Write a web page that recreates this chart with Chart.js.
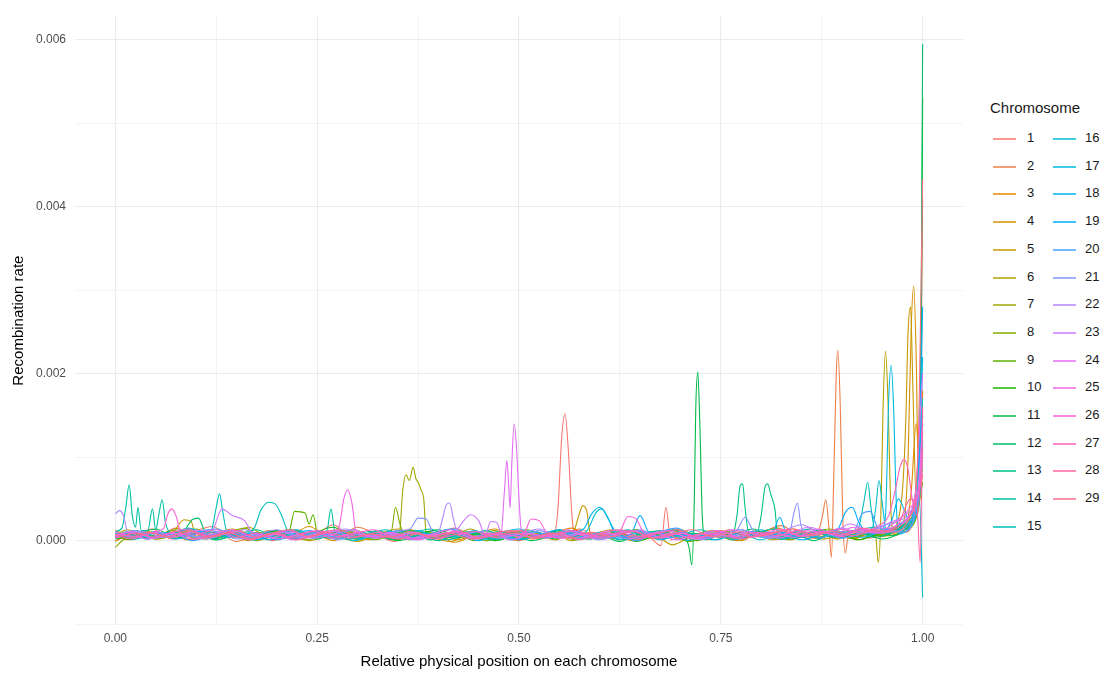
<!DOCTYPE html>
<html>
<head>
<meta charset="utf-8">
<script src="https://cdn.jsdelivr.net/npm/chart.js@4.4.0/dist/chart.umd.min.js"></script>
<style>
  body { margin: 0; background: #fff; font-family: "Liberation Sans", Arial, sans-serif; }
  #wrap { position: relative; width: 1105px; height: 673px; overflow: hidden; }
  #chart { position: absolute; left: 0; top: 0; }
  .legend-title { position: absolute; left: 990px; top: 99px; font-size: 15px; color: #1a1a1a; }
  .swatch { position: absolute; width: 23px; height: 2px; opacity: 0.75; }
  .lab { position: absolute; font-size: 13px; line-height: 16px; color: #1a1a1a; }
</style>
</head>
<body>
<div id="wrap">
  <canvas id="chart" width="975" height="673"></canvas>
  <div class="legend-title">Chromosome</div>
  <div id="legend"></div>
</div>
<script>
// tick positions
const xTicks = [0, 0.125, 0.25, 0.375, 0.5, 0.625, 0.75, 0.875, 1];
const yTicks = [-0.001, 0, 0.001, 0.002, 0.003, 0.004, 0.005, 0.006];

const chromosomes = ["1","2","3","4","5","6","7","8","9","10","11","12","13","14","15",
  "16","17","18","19","20","21","22","23","24","25","26","27","28","29"];

// [relative position, recombination rate]
const chr1 = [[0,1.2e-4],[.02,0.5e-4],[.045,1.4e-4],[.07,0.2e-4],[.095,1.0e-4],[.12,1.7e-4],[.145,0.4e-4],[.17,0.9e-4],[.195,0],[.22,1.3e-4],[.245,0.6e-4],[.27,1.9e-4],[.295,0.3e-4],[.32,0.8e-4],[.345,-0.1e-4],[.37,1.1e-4],[.395,0.5e-4],[.42,1.5e-4],[.445,0.2e-4],[.47,0.7e-4],[.495,0.4e-4],[.52,1.0e-4],[.542,0.5e-4],[.548,3.5e-4],[.553,12.5e-4],[.557,15.2e-4],[.561,11e-4],[.566,2.5e-4],[.572,0.2e-4],[.59,0.9e-4],[.615,0.3e-4],[.64,1.2e-4],[.662,0.4e-4],[.676,-0.6e-4],[.682,4e-4],[.688,0.1e-4],[.71,0.8e-4],[.735,0.2e-4],[.76,1.3e-4],[.785,0.5e-4],[.81,1.0e-4],[.835,0.1e-4],[.86,1.4e-4],[.885,0.6e-4],[.91,1.1e-4],[.935,0.3e-4],[.96,1.5e-4],[.98,1.0e-4],[.99,2.5e-4],[.996,8e-4],[1,41e-4]];
const chr2 = [[0,0],[.025,0.8e-4],[.05,0.3e-4],[.075,1.5e-4],[.1,0.5e-4],[.125,1.0e-4],[.15,-0.1e-4],[.175,0.7e-4],[.2,1.2e-4],[.225,0.2e-4],[.25,0.9e-4],[.275,0.4e-4],[.3,1.6e-4],[.325,0.7e-4],[.35,0.1e-4],[.375,1.0e-4],[.4,0.5e-4],[.425,1.3e-4],[.45,0.2e-4],[.475,0.6e-4],[.5,0],[.525,0.9e-4],[.55,0.4e-4],[.575,1.4e-4],[.6,0.2e-4],[.625,0.8e-4],[.65,0.5e-4],[.675,1.1e-4],[.7,0.1e-4],[.725,0.7e-4],[.75,1.2e-4],[.775,0.3e-4],[.8,0.9e-4],[.825,1.8e-4],[.85,0.4e-4],[.87,0.9e-4],[.876,3e-4],[.88,4.9e-4],[.884,1.5e-4],[.887,-2e-4],[.89,8e-4],[.893,20e-4],[.895,22.8e-4],[.898,16e-4],[.901,3e-4],[.904,-1.5e-4],[.908,0.6e-4],[.93,1.3e-4],[.955,0.7e-4],[.975,1.6e-4],[.99,2.5e-4],[.996,5e-4],[1,13e-4]];
const chr3 = [[0,0.6e-4],[.015,0.1e-4],[.04,1.1e-4],[.065,0.5e-4],[.09,1.4e-4],[.115,0.3e-4],[.14,0.8e-4],[.165,0],[.19,1.2e-4],[.215,0.6e-4],[.24,1.7e-4],[.265,0.4e-4],[.29,0.9e-4],[.315,0.1e-4],[.34,0.7e-4],[.365,1.3e-4],[.39,0.5e-4],[.415,-0.1e-4],[.44,0.8e-4],[.465,0.4e-4],[.49,1.1e-4],[.515,0.2e-4],[.54,0.7e-4],[.565,1.5e-4],[.59,0.3e-4],[.615,0.9e-4],[.64,0],[.665,0.6e-4],[.69,1.2e-4],[.715,0.4e-4],[.74,0.8e-4],[.765,0.1e-4],[.79,1.0e-4],[.815,0.5e-4],[.84,1.4e-4],[.865,0.3e-4],[.89,0.9e-4],[.915,0.2e-4],[.94,1.2e-4],[.965,0.8e-4],[.98,2e-4],[.986,6e-4],[.992,14e-4],[.997,9e-4],[1,18e-4]];
const chr4 = [[0,-0.1e-4],[.02,0.9e-4],[.045,0.4e-4],[.07,1.2e-4],[.095,0.1e-4],[.12,0.7e-4],[.145,1.4e-4],[.17,0.5e-4],[.195,1.0e-4],[.22,0.2e-4],[.245,0.8e-4],[.27,0],[.295,1.3e-4],[.32,0.6e-4],[.345,1.1e-4],[.37,0.3e-4],[.395,0.9e-4],[.42,-0.2e-4],[.445,0.7e-4],[.47,1.4e-4],[.495,0.4e-4],[.52,0.8e-4],[.545,0.1e-4],[.57,1.2e-4],[.595,0.5e-4],[.62,1.0e-4],[.645,0.2e-4],[.67,0.7e-4],[.695,1.3e-4],[.72,0.3e-4],[.745,0.9e-4],[.77,0],[.795,0.8e-4],[.82,1.5e-4],[.845,0.4e-4],[.87,1.0e-4],[.895,0.2e-4],[.92,0.9e-4],[.945,0.6e-4],[.965,1.4e-4],[.977,2.5e-4],[.982,10e-4],[.986,26e-4],[.989,30.5e-4],[.992,22e-4],[.995,6e-4],[1,9e-4]];
const chr5 = [[0,0.5e-4],[.025,1.2e-4],[.05,0.2e-4],[.07,0.8e-4],[.085,2.5e-4],[.094,2.3e-4],[.1,0.3e-4],[.125,0.6e-4],[.15,1.3e-4],[.175,0.4e-4],[.2,0.9e-4],[.225,0.1e-4],[.25,1.1e-4],[.275,0.5e-4],[.3,-0.1e-4],[.325,0.8e-4],[.35,1.4e-4],[.375,0.3e-4],[.4,0.7e-4],[.425,0.1e-4],[.45,1.0e-4],[.475,0.5e-4],[.5,1.2e-4],[.525,0.2e-4],[.55,0.6e-4],[.568,1.2e-4],[.574,3e-4],[.579,4.2e-4],[.584,3.5e-4],[.588,1.0e-4],[.6,0.3e-4],[.625,0.9e-4],[.65,0.1e-4],[.675,0.7e-4],[.7,1.3e-4],[.725,0.4e-4],[.75,0.8e-4],[.775,0],[.8,1.1e-4],[.825,0.5e-4],[.85,0.9e-4],[.875,0.2e-4],[.9,0.7e-4],[.925,1.3e-4],[.95,0.5e-4],[.968,2e-4],[.975,6e-4],[.979,14e-4],[.982,25e-4],[.985,28e-4],[.988,18e-4],[.992,5e-4],[1,12e-4]];
const chr6 = [[0,0.7e-4],[.015,1.3e-4],[.04,0.3e-4],[.065,0.9e-4],[.09,0.1e-4],[.115,1.1e-4],[.14,0.5e-4],[.165,1.6e-4],[.19,0.4e-4],[.215,0.8e-4],[.24,0],[.265,0.7e-4],[.29,1.2e-4],[.315,0.3e-4],[.34,0.9e-4],[.365,0.1e-4],[.39,1.0e-4],[.415,0.5e-4],[.44,1.4e-4],[.465,0.2e-4],[.49,0.8e-4],[.515,0.4e-4],[.54,1.1e-4],[.565,0],[.59,0.7e-4],[.615,1.3e-4],[.64,0.3e-4],[.665,0.9e-4],[.69,-0.5e-4],[.715,0.6e-4],[.74,1.2e-4],[.765,0.4e-4],[.79,0.8e-4],[.815,0.1e-4],[.84,1.0e-4],[.865,0.5e-4],[.89,1.3e-4],[.915,0.3e-4],[.935,0.8e-4],[.942,0.3e-4],[.945,-2.6e-4],[.948,2e-4],[.951,16e-4],[.954,22.7e-4],[.957,17e-4],[.961,3e-4],[.966,0.6e-4],[.98,1.4e-4],[.99,2.2e-4],[1,8e-4]];
const chr7 = [[0,0.4e-4],[.025,1.0e-4],[.05,0.2e-4],[.075,0.7e-4],[.1,1.4e-4],[.125,0.3e-4],[.15,0.9e-4],[.175,0],[.2,0.8e-4],[.225,1.2e-4],[.25,0.4e-4],[.275,1.0e-4],[.3,0.1e-4],[.325,0.7e-4],[.345,0.5e-4],[.352,1.0e-4],[.356,6e-4],[.36,7.9e-4],[.364,7.2e-4],[.369,8.8e-4],[.372,7.5e-4],[.375,7e-4],[.379,6e-4],[.382,5e-4],[.385,0.8e-4],[.395,0.3e-4],[.42,0.9e-4],[.445,0.5e-4],[.47,1.2e-4],[.495,0.1e-4],[.52,0.8e-4],[.545,0.4e-4],[.57,1.1e-4],[.595,0.2e-4],[.62,0.7e-4],[.645,1.3e-4],[.67,0.3e-4],[.695,0.9e-4],[.72,0],[.745,0.8e-4],[.77,0.5e-4],[.795,1.2e-4],[.82,0.2e-4],[.845,0.8e-4],[.87,0.4e-4],[.895,1.1e-4],[.92,0.1e-4],[.945,0.9e-4],[.97,1.6e-4],[.99,2.6e-4],[1,10e-4]];
const chr8 = [[0,-0.8e-4],[.01,0.1e-4],[.035,0.8e-4],[.06,0.4e-4],[.085,1.1e-4],[.11,0.2e-4],[.135,0.7e-4],[.16,1.5e-4],[.185,0.3e-4],[.21,0.9e-4],[.235,0.1e-4],[.26,0.6e-4],[.285,1.2e-4],[.31,0.4e-4],[.33,0.9e-4],[.342,1.2e-4],[.347,4e-4],[.352,2.2e-4],[.36,0.2e-4],[.385,0.8e-4],[.41,0.3e-4],[.435,1.0e-4],[.46,0],[.485,0.7e-4],[.51,1.3e-4],[.535,0.4e-4],[.56,0.9e-4],[.585,0.2e-4],[.61,0.6e-4],[.635,1.2e-4],[.66,0.3e-4],[.685,0.8e-4],[.71,-0.1e-4],[.735,0.7e-4],[.76,1.1e-4],[.785,0.4e-4],[.81,0.9e-4],[.835,0.1e-4],[.86,0.8e-4],[.885,1.4e-4],[.91,0.3e-4],[.935,0.9e-4],[.96,0.6e-4],[.98,1.5e-4],[.993,3e-4],[1,7e-4]];
const chr9 = [[0,0.3e-4],[.025,0.9e-4],[.05,0.5e-4],[.075,1.3e-4],[.1,0.2e-4],[.125,0.8e-4],[.15,0.4e-4],[.175,1.0e-4],[.2,0.5e-4],[.215,1.0e-4],[.222,3.5e-4],[.235,3.3e-4],[.24,2e-4],[.245,3.1e-4],[.25,1.0e-4],[.27,0.3e-4],[.295,1.0e-4],[.32,0.1e-4],[.345,0.7e-4],[.37,1.2e-4],[.395,0.3e-4],[.42,0.8e-4],[.445,0],[.47,0.6e-4],[.495,1.1e-4],[.52,0.4e-4],[.545,0.9e-4],[.57,0.1e-4],[.595,0.8e-4],[.62,0.5e-4],[.645,1.3e-4],[.67,0.2e-4],[.695,0.7e-4],[.72,0],[.745,0.9e-4],[.77,0.4e-4],[.795,1.1e-4],[.82,0.2e-4],[.845,0.6e-4],[.87,1.2e-4],[.895,0.3e-4],[.92,0.8e-4],[.945,0.6e-4],[.97,1.6e-4],[.99,3.5e-4],[.996,6e-4],[1,15e-4]];
const chr10 = [[0,0.6e-4],[.02,0.1e-4],[.045,1.0e-4],[.07,0.4e-4],[.095,1.3e-4],[.12,0.2e-4],[.145,0.8e-4],[.17,0.5e-4],[.195,1.1e-4],[.22,0.3e-4],[.245,0.9e-4],[.27,1.6e-4],[.295,0.4e-4],[.32,0.8e-4],[.345,0.1e-4],[.37,0.7e-4],[.395,1.2e-4],[.42,0.3e-4],[.445,0.9e-4],[.47,0],[.495,0.6e-4],[.52,1.1e-4],[.545,0.2e-4],[.57,0.8e-4],[.595,0.4e-4],[.62,1.0e-4],[.645,-0.1e-4],[.67,0.7e-4],[.695,1.3e-4],[.72,0.4e-4],[.745,0.8e-4],[.77,0.2e-4],[.795,1.0e-4],[.82,0.5e-4],[.845,1.2e-4],[.87,0.3e-4],[.895,0.9e-4],[.92,0.1e-4],[.945,0.8e-4],[.97,1.5e-4],[.988,2.5e-4],[.995,5e-4],[.998,20e-4],[1,53e-4]];
const chr11 = [[0,0.2e-4],[.025,0.7e-4],[.05,1.4e-4],[.075,0.3e-4],[.1,0.9e-4],[.125,0.1e-4],[.15,0.8e-4],[.175,0.4e-4],[.2,1.2e-4],[.225,0.2e-4],[.25,0.7e-4],[.275,1.1e-4],[.3,0.3e-4],[.325,0.9e-4],[.35,0],[.375,0.6e-4],[.4,1.3e-4],[.425,0.4e-4],[.45,0.8e-4],[.475,0.1e-4],[.5,1.0e-4],[.525,0.5e-4],[.55,1.2e-4],[.575,0.2e-4],[.6,0.7e-4],[.625,-0.1e-4],[.65,0.8e-4],[.675,0.4e-4],[.695,1.0e-4],[.705,0.6e-4],[.711,-1e-4],[.714,-2.9e-4],[.717,4e-4],[.719,16e-4],[.7215,20.2e-4],[.724,14e-4],[.727,3e-4],[.731,0.1e-4],[.75,0.9e-4],[.775,0.3e-4],[.8,1.1e-4],[.825,0.2e-4],[.85,0.7e-4],[.875,1.3e-4],[.9,0.4e-4],[.925,0.9e-4],[.95,0.2e-4],[.975,1.2e-4],[.99,3e-4],[1,9e-4]];
const chr12 = [[0,0.5e-4],[.015,1.1e-4],[.04,0.3e-4],[.065,0.8e-4],[.085,1.2e-4],[.095,2.5e-4],[.103,2.7e-4],[.112,1.0e-4],[.14,0.9e-4],[.165,0.1e-4],[.19,0.7e-4],[.215,1.3e-4],[.24,0.5e-4],[.265,1.0e-4],[.29,0.2e-4],[.315,0.8e-4],[.34,0.4e-4],[.365,1.2e-4],[.39,0.1e-4],[.415,0.7e-4],[.44,1.1e-4],[.465,0.3e-4],[.49,0.9e-4],[.515,0],[.54,0.6e-4],[.565,1.2e-4],[.59,0.4e-4],[.615,0.8e-4],[.64,0.2e-4],[.665,1.1e-4],[.69,0.5e-4],[.715,0.9e-4],[.74,0.1e-4],[.765,0.7e-4],[.79,1.4e-4],[.815,0.3e-4],[.84,0.8e-4],[.865,0],[.89,0.9e-4],[.915,0.5e-4],[.94,1.3e-4],[.965,0.6e-4],[.985,2.2e-4],[.995,8e-4],[.998,25e-4],[1,59.5e-4]];
const chr13 = [[0,0.8e-4],[.025,0.3e-4],[.05,1.1e-4],[.075,0.5e-4],[.1,0.9e-4],[.125,0.1e-4],[.15,0.7e-4],[.175,1.3e-4],[.2,0.4e-4],[.225,0.8e-4],[.25,0.2e-4],[.275,1.0e-4],[.3,0.5e-4],[.325,1.2e-4],[.35,0.3e-4],[.375,0.7e-4],[.4,0],[.425,0.9e-4],[.45,0.4e-4],[.475,1.1e-4],[.5,0.2e-4],[.525,0.6e-4],[.55,1.3e-4],[.575,0.4e-4],[.6,0.9e-4],[.625,0.1e-4],[.65,0.7e-4],[.675,1.2e-4],[.7,0.3e-4],[.725,0.8e-4],[.75,0.4e-4],[.765,0.8e-4],[.77,3e-4],[.774,6.6e-4],[.777,6.8e-4],[.78,4e-4],[.784,1.2e-4],[.795,1.0e-4],[.8,3e-4],[.805,6.5e-4],[.808,6.8e-4],[.812,5.5e-4],[.817,3.8e-4],[.82,1.0e-4],[.84,0.3e-4],[.865,1.0e-4],[.89,0.5e-4],[.915,1.2e-4],[.94,0.4e-4],[.965,1.1e-4],[.985,2.4e-4],[.996,6e-4],[1,14e-4]];
const chr14 = [[0,1.1e-4],[.008,1.5e-4],[.013,4e-4],[.017,6.7e-4],[.021,3e-4],[.025,1.6e-4],[.028,4e-4],[.032,1.2e-4],[.04,1.2e-4],[.046,3.8e-4],[.05,1.3e-4],[.054,3.2e-4],[.058,4.9e-4],[.062,2.2e-4],[.07,0.9e-4],[.09,1.5e-4],[.115,0.6e-4],[.14,1.2e-4],[.165,0.4e-4],[.19,1.0e-4],[.215,0.3e-4],[.24,0.8e-4],[.262,1.2e-4],[.267,3.8e-4],[.272,1.1e-4],[.29,0.5e-4],[.315,1.1e-4],[.34,0.2e-4],[.365,0.8e-4],[.39,1.4e-4],[.415,0.4e-4],[.44,0.9e-4],[.465,0.1e-4],[.49,0.7e-4],[.515,1.2e-4],[.54,0.3e-4],[.565,0.8e-4],[.59,0.5e-4],[.615,1.1e-4],[.64,0.2e-4],[.665,0.7e-4],[.69,1.3e-4],[.715,0.4e-4],[.74,0.9e-4],[.765,0.1e-4],[.79,0.8e-4],[.815,1.4e-4],[.84,0.5e-4],[.865,1.0e-4],[.89,0.4e-4],[.915,1.1e-4],[.94,1.6e-4],[.965,1.0e-4],[.985,3e-4],[.996,5e-4],[1,11e-4]];
const chr15 = [[0,0.6e-4],[.025,1.2e-4],[.05,0.5e-4],[.075,1.0e-4],[.1,0.4e-4],[.115,0.9e-4],[.12,1.5e-4],[.125,4e-4],[.129,5.6e-4],[.133,3.5e-4],[.138,1.1e-4],[.155,0.7e-4],[.172,1.5e-4],[.18,3.6e-4],[.19,4.6e-4],[.198,4.4e-4],[.206,3e-4],[.214,1.1e-4],[.235,0.5e-4],[.26,1.0e-4],[.285,0.2e-4],[.31,0.8e-4],[.335,1.3e-4],[.36,0.4e-4],[.385,0.9e-4],[.41,0.1e-4],[.435,0.7e-4],[.46,1.2e-4],[.485,0.3e-4],[.51,0.8e-4],[.535,0.5e-4],[.56,1.1e-4],[.585,0.2e-4],[.61,0.7e-4],[.635,1.3e-4],[.66,0.4e-4],[.685,0.9e-4],[.71,0],[.735,0.8e-4],[.76,0.5e-4],[.785,1.1e-4],[.81,0.3e-4],[.835,0.8e-4],[.86,1.4e-4],[.885,0.6e-4],[.91,1.1e-4],[.92,1.4e-4],[.927,4.5e-4],[.932,7e-4],[.936,4e-4],[.941,1.3e-4],[.96,0.9e-4],[.98,2.0e-4],[.994,5e-4],[1,17e-4]];
const chr16 = [[0,0.4e-4],[.02,1.0e-4],[.045,0.3e-4],[.07,0.8e-4],[.095,1.4e-4],[.12,0.5e-4],[.145,0.9e-4],[.17,0.1e-4],[.195,0.7e-4],[.22,1.2e-4],[.245,0.4e-4],[.27,0.8e-4],[.295,0],[.32,0.6e-4],[.345,1.1e-4],[.37,0.3e-4],[.395,0.9e-4],[.42,0.5e-4],[.445,1.2e-4],[.47,0.2e-4],[.495,0.7e-4],[.52,0.4e-4],[.545,1.0e-4],[.57,0.6e-4],[.585,1.3e-4],[.595,3.3e-4],[.603,3.8e-4],[.611,2.5e-4],[.625,0.5e-4],[.65,0.9e-4],[.675,0.2e-4],[.7,0.7e-4],[.725,1.3e-4],[.75,0.4e-4],[.775,0.8e-4],[.8,0.1e-4],[.825,1.0e-4],[.85,0.5e-4],[.875,1.1e-4],[.9,0.3e-4],[.925,1.0e-4],[.938,1.6e-4],[.942,4e-4],[.946,7.2e-4],[.95,4.5e-4],[.955,1.2e-4],[.975,1.0e-4],[.99,2.5e-4],[.996,5e-4],[1,-6.8e-4]];
const chr17 = [[0,0.7e-4],[.025,0.2e-4],[.05,0.9e-4],[.075,0.5e-4],[.1,1.1e-4],[.125,0.3e-4],[.15,0.8e-4],[.175,0.1e-4],[.2,0.7e-4],[.225,1.3e-4],[.25,0.4e-4],[.275,0.9e-4],[.3,0.2e-4],[.325,0.8e-4],[.35,0.5e-4],[.375,1.2e-4],[.4,0.3e-4],[.425,0.7e-4],[.45,0],[.475,0.9e-4],[.5,1.4e-4],[.525,0.5e-4],[.55,0.8e-4],[.575,0.2e-4],[.6,1.0e-4],[.625,0.4e-4],[.65,1.1e-4],[.675,0.1e-4],[.7,0.7e-4],[.725,0.3e-4],[.75,1.0e-4],[.775,0.5e-4],[.8,1.3e-4],[.825,0.2e-4],[.85,0.8e-4],[.875,0.4e-4],[.9,1.1e-4],[.925,0.4e-4],[.948,1.1e-4],[.954,3e-4],[.958,17e-4],[.961,21e-4],[.964,16e-4],[.968,3e-4],[.972,0.8e-4],[.985,1.8e-4],[.994,5e-4],[1,22e-4]];
const chr18 = [[0,0.3e-4],[.015,0.8e-4],[.04,0.2e-4],[.065,1.0e-4],[.09,0.6e-4],[.115,1.3e-4],[.14,0.4e-4],[.165,0.9e-4],[.19,0.1e-4],[.215,0.7e-4],[.24,1.2e-4],[.265,0.3e-4],[.29,0.8e-4],[.315,0.5e-4],[.34,1.1e-4],[.365,0.2e-4],[.39,0.7e-4],[.415,1.4e-4],[.44,0.4e-4],[.465,0.9e-4],[.49,0.1e-4],[.515,0.8e-4],[.54,0.4e-4],[.565,1.0e-4],[.58,1.4e-4],[.59,3.2e-4],[.6,4e-4],[.61,2.8e-4],[.62,0.7e-4],[.645,0.3e-4],[.67,1.0e-4],[.695,0.4e-4],[.72,0.8e-4],[.745,0.1e-4],[.77,0.9e-4],[.795,0.5e-4],[.815,1.1e-4],[.823,2.8e-4],[.83,1.2e-4],[.85,0.4e-4],[.875,1.0e-4],[.9,0.6e-4],[.925,1.3e-4],[.95,0.9e-4],[.962,2.5e-4],[.97,5e-4],[.978,3.5e-4],[.985,2e-4],[.992,6e-4],[1,16e-4]];
const chr19 = [[0,0.9e-4],[.025,0.4e-4],[.05,1.1e-4],[.075,0.2e-4],[.1,0.8e-4],[.125,1.4e-4],[.15,0.5e-4],[.175,0.9e-4],[.2,0.1e-4],[.225,0.7e-4],[.25,1.1e-4],[.275,0.3e-4],[.3,0.8e-4],[.325,0.5e-4],[.35,1.2e-4],[.375,0.2e-4],[.4,0.6e-4],[.425,1.0e-4],[.45,0.3e-4],[.475,0.9e-4],[.5,0.1e-4],[.525,0.7e-4],[.55,1.3e-4],[.575,0.4e-4],[.6,0.8e-4],[.625,0.2e-4],[.64,1.0e-4],[.65,3e-4],[.66,1.1e-4],[.675,0.5e-4],[.7,1.0e-4],[.725,0.2e-4],[.75,0.7e-4],[.775,1.3e-4],[.8,0.4e-4],[.825,0.9e-4],[.85,0.1e-4],[.875,0.8e-4],[.895,1.4e-4],[.905,3.5e-4],[.913,4e-4],[.921,2.2e-4],[.935,0.8e-4],[.955,1.3e-4],[.975,2.2e-4],[.99,5e-4],[.996,12e-4],[1,28e-4]];
const chr20 = [[0,0.5e-4],[.02,1.1e-4],[.045,0.3e-4],[.07,0.9e-4],[.095,0],[.12,0.7e-4],[.145,1.2e-4],[.17,0.4e-4],[.195,0.8e-4],[.22,0.2e-4],[.245,1.0e-4],[.27,0.5e-4],[.295,1.3e-4],[.32,0.3e-4],[.345,0.7e-4],[.37,0.1e-4],[.395,0.9e-4],[.42,1.4e-4],[.445,0.4e-4],[.47,0.8e-4],[.495,0.2e-4],[.52,1.0e-4],[.545,0.5e-4],[.57,1.1e-4],[.595,0.3e-4],[.62,0.7e-4],[.645,0],[.67,0.9e-4],[.695,1.5e-4],[.72,0.4e-4],[.745,0.8e-4],[.77,0.2e-4],[.795,1.0e-4],[.82,0.6e-4],[.845,1.2e-4],[.87,0.3e-4],[.895,0.9e-4],[.915,1.2e-4],[.925,3.2e-4],[.935,3.5e-4],[.945,1.5e-4],[.97,1.1e-4],[.988,3e-4],[.996,6e-4],[1,12e-4]];
const chr21 = [[0,0.6e-4],[.025,1.2e-4],[.05,0.3e-4],[.075,0.8e-4],[.1,0.5e-4],[.125,1.1e-4],[.15,0.2e-4],[.175,0.7e-4],[.2,1.3e-4],[.225,0.4e-4],[.25,0.9e-4],[.275,0.1e-4],[.3,0.8e-4],[.325,0.5e-4],[.35,1.2e-4],[.365,1.4e-4],[.375,2.7e-4],[.385,2.6e-4],[.395,0.8e-4],[.425,1.1e-4],[.45,0.2e-4],[.475,0.9e-4],[.5,0.5e-4],[.525,1.2e-4],[.55,0.3e-4],[.575,0.8e-4],[.6,0.1e-4],[.625,0.7e-4],[.65,1.3e-4],[.675,0.4e-4],[.7,0.9e-4],[.725,0.2e-4],[.75,0.8e-4],[.77,1.3e-4],[.78,2.8e-4],[.79,1.2e-4],[.81,0.5e-4],[.835,1.0e-4],[.841,3.5e-4],[.845,4.5e-4],[.849,2e-4],[.855,0.5e-4],[.875,1.0e-4],[.9,0.3e-4],[.925,0.9e-4],[.95,1.5e-4],[.975,1.0e-4],[.99,3e-4],[1,10e-4]];
const chr22 = [[0,3.2e-4],[.005,3.6e-4],[.01,3.0e-4],[.016,0.9e-4],[.035,1.1e-4],[.06,0.4e-4],[.085,0.9e-4],[.11,0.2e-4],[.135,0.8e-4],[.16,1.3e-4],[.185,0.5e-4],[.21,1.0e-4],[.235,0.3e-4],[.26,0.8e-4],[.285,1.4e-4],[.31,0.4e-4],[.335,0.9e-4],[.36,0.2e-4],[.385,0.7e-4],[.4,1.0e-4],[.405,2.5e-4],[.41,4.3e-4],[.414,4.5e-4],[.419,2.5e-4],[.425,0.7e-4],[.45,1.1e-4],[.475,0.3e-4],[.5,0.8e-4],[.525,1.4e-4],[.55,0.5e-4],[.575,0.9e-4],[.6,0.2e-4],[.625,0.8e-4],[.65,1.2e-4],[.675,0.4e-4],[.7,0.9e-4],[.725,0.1e-4],[.75,0.7e-4],[.775,1.3e-4],[.8,0.6e-4],[.825,1.1e-4],[.85,1.9e-4],[.875,0.9e-4],[.9,1.5e-4],[.925,0.8e-4],[.95,1.8e-4],[.975,2.6e-4],[.99,4e-4],[1,9e-4]];
const chr23 = [[0,0.8e-4],[.025,0.4e-4],[.05,1.0e-4],[.075,0.5e-4],[.1,1.2e-4],[.12,1.3e-4],[.132,3.8e-4],[.145,3.0e-4],[.16,2.4e-4],[.17,0.9e-4],[.195,0.4e-4],[.22,1.0e-4],[.245,0.3e-4],[.27,0.8e-4],[.295,1.3e-4],[.32,0.4e-4],[.345,0.9e-4],[.37,0.2e-4],[.395,0.7e-4],[.42,1.0e-4],[.43,2.2e-4],[.44,3.1e-4],[.45,2.4e-4],[.458,0.7e-4],[.465,2.3e-4],[.472,2.2e-4],[.48,0.5e-4],[.51,0.9e-4],[.535,0.3e-4],[.56,1.3e-4],[.585,0.5e-4],[.61,0.9e-4],[.635,0.2e-4],[.66,0.8e-4],[.685,1.2e-4],[.71,0.4e-4],[.735,0.9e-4],[.76,0.5e-4],[.785,1.1e-4],[.81,0.3e-4],[.835,0.9e-4],[.86,1.6e-4],[.885,0.8e-4],[.91,2.0e-4],[.935,1.2e-4],[.96,2.2e-4],[.98,3.2e-4],[.994,6e-4],[1,14e-4]];
const chr24 = [[0,0.6e-4],[.02,1.1e-4],[.045,0.4e-4],[.07,0.9e-4],[.095,0.2e-4],[.12,0.8e-4],[.145,1.3e-4],[.17,0.5e-4],[.195,0.9e-4],[.22,0.1e-4],[.245,0.7e-4],[.27,1.2e-4],[.295,0.4e-4],[.32,0.8e-4],[.345,0.3e-4],[.37,1.0e-4],[.395,0.5e-4],[.42,1.1e-4],[.445,0.2e-4],[.465,0.7e-4],[.478,1.0e-4],[.482,6e-4],[.485,9.6e-4],[.487,7e-4],[.489,3.9e-4],[.491,9e-4],[.494,14e-4],[.497,11e-4],[.5,5e-4],[.503,1.2e-4],[.52,0.4e-4],[.545,0.9e-4],[.57,0.2e-4],[.595,0.8e-4],[.62,1.3e-4],[.645,0.4e-4],[.67,0.9e-4],[.695,0.1e-4],[.72,0.7e-4],[.745,1.2e-4],[.77,0.5e-4],[.795,1.0e-4],[.82,0.3e-4],[.845,0.9e-4],[.87,1.4e-4],[.895,0.6e-4],[.92,1.2e-4],[.945,0.9e-4],[.97,2.0e-4],[.99,5e-4],[1,20e-4]];
const chr25 = [[0,0.4e-4],[.015,1.0e-4],[.04,0.2e-4],[.065,0.8e-4],[.09,1.4e-4],[.115,0.5e-4],[.14,1.0e-4],[.165,0.1e-4],[.19,0.7e-4],[.215,1.2e-4],[.24,0.4e-4],[.262,0.9e-4],[.272,0.7e-4],[.278,2e-4],[.283,5e-4],[.288,6.1e-4],[.293,4.5e-4],[.298,1.2e-4],[.315,0.5e-4],[.34,1.0e-4],[.365,0.2e-4],[.39,0.7e-4],[.415,1.3e-4],[.44,0.4e-4],[.465,0.9e-4],[.49,0.1e-4],[.515,0.8e-4],[.54,0.5e-4],[.565,1.1e-4],[.59,0.3e-4],[.615,0.8e-4],[.64,1.2e-4],[.665,0.4e-4],[.69,0.9e-4],[.715,0.2e-4],[.74,0.7e-4],[.765,1.3e-4],[.79,0.5e-4],[.815,1.0e-4],[.84,0.4e-4],[.865,1.1e-4],[.89,0.8e-4],[.915,1.6e-4],[.94,1.0e-4],[.965,2.1e-4],[.985,4e-4],[.996,7e-4],[1,15e-4]];
const chr26 = [[0,1.0e-4],[.025,0.5e-4],[.05,1.1e-4],[.06,1.5e-4],[.065,3.2e-4],[.07,3.8e-4],[.075,3.0e-4],[.082,0.8e-4],[.1,0.8e-4],[.125,1.3e-4],[.15,0.4e-4],[.175,0.9e-4],[.2,0.2e-4],[.225,0.7e-4],[.25,1.2e-4],[.275,0.5e-4],[.3,1.0e-4],[.325,0.3e-4],[.35,0.8e-4],[.375,0.1e-4],[.4,0.7e-4],[.425,1.1e-4],[.45,0.4e-4],[.475,0.9e-4],[.5,0.5e-4],[.508,1.2e-4],[.515,2.6e-4],[.525,2.4e-4],[.535,0.8e-4],[.555,0.3e-4],[.58,0.9e-4],[.605,0.4e-4],[.625,1.1e-4],[.635,2.9e-4],[.645,2.6e-4],[.655,0.9e-4],[.675,0.3e-4],[.7,0.9e-4],[.725,0.4e-4],[.75,1.1e-4],[.775,0.2e-4],[.8,0.8e-4],[.825,1.4e-4],[.85,0.6e-4],[.875,1.1e-4],[.9,0.5e-4],[.925,1.3e-4],[.95,0.9e-4],[.975,2.0e-4],[.99,4e-4],[1,8e-4]];
const chr27 = [[0,0.7e-4],[.02,0.2e-4],[.045,0.9e-4],[.07,0.4e-4],[.095,1.1e-4],[.12,0.5e-4],[.145,1.0e-4],[.17,0.2e-4],[.195,0.8e-4],[.22,0.4e-4],[.245,1.1e-4],[.27,0.3e-4],[.295,0.8e-4],[.32,1.3e-4],[.345,0.5e-4],[.37,0.9e-4],[.395,0.2e-4],[.42,0.7e-4],[.445,1.1e-4],[.47,0.4e-4],[.495,0.9e-4],[.52,0.3e-4],[.545,0.8e-4],[.57,1.2e-4],[.595,0.5e-4],[.62,0.9e-4],[.645,0.2e-4],[.67,0.8e-4],[.695,1.3e-4],[.72,0.4e-4],[.745,0.9e-4],[.77,0.3e-4],[.795,1.0e-4],[.82,0.6e-4],[.845,1.2e-4],[.87,0.8e-4],[.895,1.4e-4],[.92,1.0e-4],[.945,1.8e-4],[.958,3e-4],[.966,6e-4],[.972,8.8e-4],[.977,9.7e-4],[.982,8.5e-4],[.987,5e-4],[.993,3e-4],[1,11e-4]];
const chr28 = [[0,0.3e-4],[.025,0.9e-4],[.05,0.4e-4],[.075,1.1e-4],[.1,0.2e-4],[.125,0.7e-4],[.15,1.2e-4],[.175,0.4e-4],[.2,0.9e-4],[.225,0.1e-4],[.25,0.8e-4],[.275,1.3e-4],[.3,0.5e-4],[.325,1.0e-4],[.35,0.2e-4],[.375,0.8e-4],[.4,0.4e-4],[.425,1.1e-4],[.45,0.3e-4],[.475,0.7e-4],[.5,1.2e-4],[.525,0.4e-4],[.55,0.9e-4],[.575,0.1e-4],[.6,0.8e-4],[.625,1.3e-4],[.65,0.5e-4],[.675,1.0e-4],[.7,0.3e-4],[.725,0.8e-4],[.75,0.4e-4],[.775,1.1e-4],[.8,0.6e-4],[.825,1.2e-4],[.85,0.5e-4],[.875,1.0e-4],[.9,0.7e-4],[.925,1.5e-4],[.95,1.1e-4],[.97,2.0e-4],[.985,5e-4],[.993,4e-4],[.997,-2.6e-4],[1,16e-4]];
const chr29 = [[0,0.8e-4],[.015,0.3e-4],[.04,1.0e-4],[.065,0.5e-4],[.09,1.2e-4],[.115,0.4e-4],[.14,0.9e-4],[.165,0.2e-4],[.19,0.8e-4],[.215,1.3e-4],[.24,0.5e-4],[.265,1.0e-4],[.29,0.3e-4],[.315,0.8e-4],[.34,0.4e-4],[.365,1.1e-4],[.39,0.5e-4],[.415,0.9e-4],[.44,0.2e-4],[.465,0.8e-4],[.49,1.2e-4],[.515,0.4e-4],[.54,0.9e-4],[.565,0.3e-4],[.59,1.0e-4],[.615,0.5e-4],[.64,1.1e-4],[.665,0.3e-4],[.69,0.8e-4],[.715,1.3e-4],[.74,0.5e-4],[.765,1.0e-4],[.79,0.4e-4],[.815,0.9e-4],[.84,1.4e-4],[.865,0.6e-4],[.89,1.1e-4],[.915,0.6e-4],[.94,1.3e-4],[.965,1.0e-4],[.985,3e-4],[.994,10e-4],[.998,30e-4],[1,43.3e-4]];

const series = [chr1, chr2, chr3, chr4, chr5, chr6, chr7, chr8, chr9, chr10, chr11, chr12, chr13, chr14, chr15,
  chr16, chr17, chr18, chr19, chr20, chr21, chr22, chr23, chr24, chr25, chr26, chr27, chr28, chr29];

// ggplot-style hue palette (hcl, c=100, l=65)
function hcl(h, c, l) {
  const hr = h * Math.PI / 180;
  const U = c * Math.cos(hr), V = c * Math.sin(hr);
  const Xn = 95.047, Yn = 100, Zn = 108.883;
  const den = Xn + 15 * Yn + 3 * Zn;
  const un = 4 * Xn / den, vn = 9 * Yn / den;
  const Y = Yn * Math.pow((l + 16) / 116, 3);
  const u = U / (13 * l) + un, v = V / (13 * l) + vn;
  const X = Y * 9 * u / (4 * v);
  const Z = Y * (12 - 3 * u - 20 * v) / (4 * v);
  const x = X / 100, y = Y / 100, z = Z / 100;
  const lin = [
    3.2404542 * x - 1.5371385 * y - 0.4985314 * z,
    -0.9692660 * x + 1.8760108 * y + 0.0415560 * z,
    0.0556434 * x - 0.2040259 * y + 1.0572252 * z
  ];
  const rgb = lin.map(c => {
    const g = c <= 0.0031308 ? 12.92 * c : 1.055 * Math.pow(c, 1 / 2.4) - 0.055;
    return Math.round(Math.min(1, Math.max(0, g)) * 255);
  });
  return `rgb(${rgb[0]},${rgb[1]},${rgb[2]})`;
}

const n = chromosomes.length;
const colors = chromosomes.map((_, i) => hcl(15 + i * 360 / n, 100, 65));

const datasets = series.map((pts, i) => ({
  label: chromosomes[i],
  data: pts.map(p => ({ x: p[0], y: p[1] })),
  borderColor: colors[i],
  borderWidth: 1.1,
  pointRadius: 0,
  fill: false,
  cubicInterpolationMode: "monotone",
  order: n - i
}));

const tickFont = { family: "'Liberation Sans', Arial, sans-serif", size: 12 };
const titleFont = { family: "'Liberation Sans', Arial, sans-serif", size: 15 };

new Chart(document.getElementById("chart"), {
  type: "line",
  data: { datasets },
  options: {
    responsive: false,
    animation: false,
    layout: { padding: { top: 10, right: 12, left: 0, bottom: 0 } },
    plugins: { legend: { display: false }, tooltip: { enabled: false } },
    scales: {
      x: {
        type: "linear",
        min: -0.05,
        max: 1.05,
        afterBuildTicks: s => { s.ticks = xTicks.map(v => ({ value: v })); },
        afterFit: s => { s.height = 48; },
        border: { display: false },
        grid: {
          drawTicks: false,
          color: "#ebebeb",
          lineWidth: ctx => (ctx.tick && Math.round(ctx.tick.value * 8) % 2 === 0) ? 1.1 : 0.55
        },
        ticks: {
          autoSkip: false,
          maxRotation: 0,
          padding: 6,
          color: "#4d4d4d",
          font: tickFont,
          callback: v => (Math.round(v * 8) % 2 === 0) ? v.toFixed(2) : ""
        },
        title: { display: true, text: "Relative physical position on each chromosome", color: "#000", font: titleFont, padding: { top: 4, bottom: 2 } }
      },
      y: {
        min: -0.00101,
        max: 0.00628,
        afterBuildTicks: s => { s.ticks = yTicks.map(v => ({ value: v })); },
        afterFit: s => { s.width = 75; },
        border: { display: false },
        grid: {
          drawTicks: false,
          color: "#ebebeb",
          lineWidth: ctx => (ctx.tick && Math.round(ctx.tick.value * 1000) % 2 === 0) ? 1.1 : 0.55
        },
        ticks: {
          autoSkip: false,
          padding: 9,
          color: "#4d4d4d",
          font: tickFont,
          callback: v => (v >= 0 && Math.round(v * 1000) % 2 === 0) ? v.toFixed(3) : ""
        },
        title: { display: true, text: "Recombination rate", color: "#000", font: titleFont, padding: { top: 10, bottom: 4 } }
      }
    }
  }
});

// legend: two columns, 15 + 14 entries
const legend = document.getElementById("legend");
chromosomes.forEach((name, i) => {
  const col = i < 15 ? 0 : 1;
  const row = i % 15;
  const cy = Math.round(138 + row * 27.7);
  const sw = document.createElement("div");
  sw.className = "swatch";
  sw.style.left = (col ? 1053 : 993) + "px";
  sw.style.top = cy + "px";
  sw.style.background = colors[i];
  const lb = document.createElement("div");
  lb.className = "lab";
  lb.style.left = (col ? 1085 : 1027) + "px";
  lb.style.top = (cy - 8) + "px";
  lb.textContent = name;
  legend.appendChild(sw);
  legend.appendChild(lb);
});
</script>
</body>
</html>
